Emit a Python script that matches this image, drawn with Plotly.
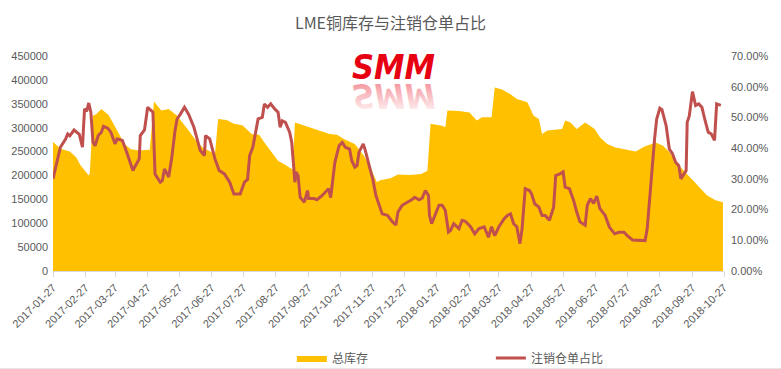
import base64
import plotly.graph_objects as go

# ---------------- data ----------------
title_text = "LME铜库存与注销仓单占比"
inv_name = "总库存"
ratio_name = "注销仓单占比"
logo_text = "SMM"

inv_dates = [
    "2017-01-27", "2017-02-03", "2017-02-12", "2017-02-18", "2017-02-22", "2017-03-02", "2017-03-03",
    "2017-03-06", "2017-03-09", "2017-03-14", "2017-03-21", "2017-03-26", "2017-03-29", "2017-04-05",
    "2017-04-11", "2017-04-19", "2017-04-29", "2017-05-03", "2017-05-10", "2017-05-17", "2017-05-25",
    "2017-06-05", "2017-06-11", "2017-06-18", "2017-06-27", "2017-06-30", "2017-07-03", "2017-07-11",
    "2017-07-18", "2017-07-26", "2017-08-04", "2017-08-11", "2017-08-17", "2017-08-24", "2017-08-29",
    "2017-09-05", "2017-09-12", "2017-09-14", "2017-09-24", "2017-10-07", "2017-10-17", "2017-10-24",
    "2017-10-31", "2017-11-10", "2017-11-19", "2017-11-25", "2017-12-01", "2017-12-04", "2017-12-14",
    "2017-12-21", "2018-01-01", "2018-01-12", "2018-01-18", "2018-01-21", "2018-02-01", "2018-02-04",
    "2018-02-06", "2018-02-17", "2018-02-27", "2018-03-06", "2018-03-11", "2018-03-20", "2018-03-23",
    "2018-03-30", "2018-04-07", "2018-04-13", "2018-04-23", "2018-04-29", "2018-05-04", "2018-05-07",
    "2018-05-12", "2018-05-26", "2018-05-29", "2018-06-03", "2018-06-09", "2018-06-17", "2018-06-26",
    "2018-07-01", "2018-07-08", "2018-07-15", "2018-07-24", "2018-08-04", "2018-08-12", "2018-08-23",
    "2018-08-30", "2018-09-05", "2018-09-11", "2018-09-17", "2018-09-26", "2018-10-03", "2018-10-11",
    "2018-10-19", "2018-10-26",
]
inv_values = [
    270000, 256000, 250000, 238000, 222000, 200000, 205000,
    325000, 328000, 339000, 326000, 304000, 294000, 266000,
    255000, 252000, 254000, 355000, 336000, 339000, 325000,
    294000, 276000, 259000, 248000, 245000, 318000, 316000,
    308000, 305000, 287000, 285000, 266000, 245000, 231000,
    222000, 212000, 311000, 304000, 294000, 287000, 285000,
    276000, 266000, 240000, 215000, 186000, 190000, 194000,
    202000, 201000, 203000, 210000, 308000, 304000, 301000,
    336000, 335000, 332000, 315000, 322000, 322000, 384000,
    380000, 370000, 360000, 353000, 325000, 318000, 287000,
    294000, 297000, 315000, 311000, 297000, 311000, 297000,
    280000, 266000, 259000, 255000, 250000, 260000, 269000,
    262000, 249000, 228000, 214000, 193000, 175000, 158000,
    148000, 144000,
]

ratio_dates = [
    "2017-01-27", "2017-01-31", "2017-02-03", "2017-02-08", "2017-02-10", "2017-02-12", "2017-02-16",
    "2017-02-21", "2017-02-24", "2017-02-26", "2017-02-28", "2017-03-02", "2017-03-04", "2017-03-06",
    "2017-03-08", "2017-03-11", "2017-03-14", "2017-03-16", "2017-03-20", "2017-03-23", "2017-03-27",
    "2017-03-29", "2017-04-03", "2017-04-06", "2017-04-09", "2017-04-13", "2017-04-15", "2017-04-19",
    "2017-04-20", "2017-04-24", "2017-04-27", "2017-05-02", "2017-05-04", "2017-05-09", "2017-05-11",
    "2017-05-13", "2017-05-17", "2017-05-20", "2017-05-23", "2017-05-25", "2017-05-28", "2017-06-01",
    "2017-06-05", "2017-06-10", "2017-06-13", "2017-06-16", "2017-06-20", "2017-06-21", "2017-06-25",
    "2017-06-27", "2017-06-30", "2017-07-04", "2017-07-09", "2017-07-14", "2017-07-18", "2017-07-24",
    "2017-07-28", "2017-07-31", "2017-08-02", "2017-08-05", "2017-08-08", "2017-08-10", "2017-08-14",
    "2017-08-16", "2017-08-19", "2017-08-22", "2017-08-26", "2017-08-29", "2017-08-31", "2017-09-02",
    "2017-09-05", "2017-09-09", "2017-09-11", "2017-09-14", "2017-09-15", "2017-09-17", "2017-09-19",
    "2017-09-23", "2017-09-26", "2017-09-27", "2017-10-02", "2017-10-05", "2017-10-10", "2017-10-13",
    "2017-10-16", "2017-10-18", "2017-10-22", "2017-10-26", "2017-10-29", "2017-11-01", "2017-11-05",
    "2017-11-07", "2017-11-10", "2017-11-12", "2017-11-14", "2017-11-18", "2017-11-20", "2017-11-24",
    "2017-11-27", "2017-11-30", "2017-12-03", "2017-12-06", "2017-12-11", "2017-12-16", "2017-12-19",
    "2017-12-21", "2017-12-25", "2017-12-28", "2018-01-01", "2018-01-03", "2018-01-06", "2018-01-10",
    "2018-01-13", "2018-01-16", "2018-01-19", "2018-01-20", "2018-01-22", "2018-01-25", "2018-01-29",
    "2018-02-01", "2018-02-04", "2018-02-07", "2018-02-09", "2018-02-12", "2018-02-17", "2018-02-20",
    "2018-02-23", "2018-02-28", "2018-03-04", "2018-03-08", "2018-03-13", "2018-03-17", "2018-03-20",
    "2018-03-23", "2018-03-27", "2018-04-01", "2018-04-04", "2018-04-07", "2018-04-10", "2018-04-13",
    "2018-04-16", "2018-04-18", "2018-04-21", "2018-04-25", "2018-04-27", "2018-04-30", "2018-05-04",
    "2018-05-07", "2018-05-10", "2018-05-14", "2018-05-18", "2018-05-20", "2018-05-24", "2018-05-27",
    "2018-05-29", "2018-06-02", "2018-06-06", "2018-06-09", "2018-06-12", "2018-06-17", "2018-06-19",
    "2018-06-22", "2018-06-25", "2018-06-28", "2018-07-01", "2018-07-06", "2018-07-10", "2018-07-15",
    "2018-07-19", "2018-07-24", "2018-07-27", "2018-08-01", "2018-08-05", "2018-08-09", "2018-08-13",
    "2018-08-15", "2018-08-19", "2018-08-22", "2018-08-24", "2018-08-27", "2018-08-29", "2018-09-02",
    "2018-09-05", "2018-09-08", "2018-09-11", "2018-09-14", "2018-09-16", "2018-09-19", "2018-09-21",
    "2018-09-22", "2018-09-24", "2018-09-27", "2018-09-30", "2018-10-03", "2018-10-06", "2018-10-09",
    "2018-10-12", "2018-10-15", "2018-10-18", "2018-10-20", "2018-10-24",
]
ratio_values = [
    30.0, 35.4, 40.3, 43.0, 44.6, 44.0, 45.9,
    44.5, 40.3, 52.8, 52.0, 54.7, 51.7, 41.9,
    40.8, 44.1, 45.2, 47.1, 46.5, 45.2, 41.4,
    43.0, 42.5, 39.7, 36.5, 32.7, 34.0, 36.5,
    44.1, 45.9, 53.3, 51.7, 31.6, 28.9, 29.5,
    33.2, 30.6, 37.0, 45.7, 49.5, 51.0, 53.3,
    51.0, 46.8, 43.0, 39.2, 37.6, 44.1, 43.0,
    40.3, 36.5, 32.7, 31.6, 28.9, 25.1, 25.1,
    28.9, 29.8, 37.6, 40.3, 45.2, 49.5, 50.0,
    54.4, 53.3, 54.4, 52.7, 51.7, 46.8, 48.9,
    48.4, 45.2, 41.9, 28.9, 32.2, 31.1, 24.0,
    22.4, 26.2, 23.6, 23.6, 23.2, 24.6, 25.6,
    26.8, 23.9, 35.4, 40.8, 41.9, 40.3, 39.7,
    36.0, 33.8, 34.3, 38.7, 41.4, 39.2, 33.8,
    30.0, 24.6, 21.9, 18.6, 18.1, 15.9, 15.0,
    19.2, 21.4, 22.0, 22.6, 23.2, 24.0, 23.2,
    23.7, 26.2, 24.6, 18.1, 15.4, 18.1, 21.4,
    21.4, 19.8, 12.7, 13.2, 15.4, 13.8, 16.5,
    16.2, 14.4, 12.1, 13.8, 14.4, 11.0, 14.4,
    11.5, 14.4, 17.0, 18.1, 18.6, 15.4, 14.4,
    8.9, 13.8, 26.8, 26.2, 25.1, 21.9, 20.8,
    18.1, 18.1, 16.5, 20.8, 31.1, 31.6, 32.3,
    27.3, 26.8, 23.0, 19.2, 16.0, 14.9, 21.4,
    23.6, 22.0, 24.4, 20.3, 18.1, 14.3, 12.1,
    12.6, 12.6, 11.5, 10.1, 10.1, 9.9, 9.9,
    13.8, 32.2, 43.0, 49.5, 53.0, 52.5, 47.3,
    39.7, 38.2, 35.4, 34.3, 30.0, 31.6, 32.7,
    48.4, 50.5, 58.4, 53.9, 54.4, 53.3, 49.0,
    45.2, 44.6, 42.5, 54.4, 53.9,
]

x_ticks = [
    "2017-01-27", "2017-02-27", "2017-03-27", "2017-04-27", "2017-05-27", "2017-06-27",
    "2017-07-27", "2017-08-27", "2017-09-27", "2017-10-27", "2017-11-27", "2017-12-27",
    "2018-01-27", "2018-02-27", "2018-03-27", "2018-04-27", "2018-05-27", "2018-06-27",
    "2018-07-27", "2018-08-27", "2018-09-27", "2018-10-27",
]
left_range = [0, 450000]
left_step = 50000
right_range = [0, 70]
right_step = 10

# ---------------- styles ----------------
YELLOW = "#FFC000"
RED = "#C0504D"
TXT = "#595959"
FONT = "Liberation Sans, Noto Sans CJK SC, sans-serif"
CJK = "Noto Sans CJK SC, sans-serif"

fig = go.Figure()
fig.add_trace(go.Scatter(
    x=inv_dates, y=inv_values, name=inv_name, mode="lines",
    line=dict(width=0, color=YELLOW), fill="tozeroy", fillcolor=YELLOW,
    yaxis="y", hoverinfo="skip",
))
fig.add_trace(go.Scatter(
    x=ratio_dates, y=ratio_values, name=ratio_name, mode="lines",
    line=dict(width=3, color=RED), yaxis="y2", hoverinfo="skip",
))

fig.update_layout(
    width=781, height=384,
    margin=dict(l=53, r=57, t=56, b=104),
    paper_bgcolor="white", plot_bgcolor="white",
    font=dict(family=FONT, size=11, color=TXT),
    title=dict(text=title_text, x=0.5, xanchor="center", y=0.94, yanchor="middle",
               font=dict(family=CJK, size=16, color=TXT)),
    xaxis=dict(
        type="date", range=[x_ticks[0], x_ticks[-1]], automargin=False,
        tickvals=x_ticks, ticktext=x_ticks, tickangle=-45,
        showgrid=False, zeroline=False,
        showline=True, linecolor="#D9D9D9", linewidth=1,
        ticks="outside", ticklen=5, tickcolor="#D9D9D9",
        tickfont=dict(size=11, color=TXT),
    ),
    yaxis=dict(
        range=left_range, dtick=left_step, tick0=0, tickformat="d", automargin=False,
        showgrid=False, zeroline=False, showline=False,
        tickfont=dict(size=11, color=TXT), ticklabelstandoff=4,
    ),
    yaxis2=dict(
        range=right_range, dtick=right_step, tick0=0, tickformat=".2f", ticksuffix="%",
        overlaying="y", side="right", automargin=False,
        showgrid=False, zeroline=False, showline=False,
        tickfont=dict(size=11, color=TXT), ticklabelstandoff=6,
    ),
    legend=dict(
        orientation="h", x=0.356, xanchor="left", y=-0.405, yanchor="middle",
        entrywidth=154, entrywidthmode="pixels", itemwidth=30,
        font=dict(family=CJK, size=12, color=TXT),
        bgcolor="rgba(0,0,0,0)",
    ),
    showlegend=True,
)

# SMM logo (text)
fig.add_annotation(
    text="<b><i>" + logo_text + "</i></b>", xref="paper", yref="paper", x=0.508, y=0.95,
    showarrow=False, xanchor="center", yanchor="middle",
    font=dict(family="DejaVu Sans Condensed, DejaVu Sans, sans-serif", size=34, color="#E60012"),
)

# faded mirror reflection of the logo (decorative graphic)
svg = (
    '<svg xmlns="http://www.w3.org/2000/svg" width="110" height="30" viewBox="0 0 110 30">'
    '<defs><linearGradient id="g" x1="0" y1="0" x2="0" y2="1">'
    '<stop offset="0" stop-color="#E60012" stop-opacity="0"/>'
    '<stop offset="1" stop-color="#E60012" stop-opacity="0.5"/>'
    '</linearGradient></defs>'
    '<g transform="scale(1,-1)">'
    '<text x="55" y="-1" text-anchor="middle" font-family="DejaVu Sans Condensed, DejaVu Sans" '
    'font-weight="bold" font-style="italic" font-size="34" fill="url(#g)">' + logo_text + '</text>'
    '</g></svg>'
)
fig.add_layout_image(
    source="data:image/svg+xml;base64," + base64.b64encode(svg.encode("utf-8")).decode("ascii"),
    xref="paper", yref="paper", x=0.508, y=0.875, sizex=110 / 671, sizey=30 / 215,
    xanchor="center", yanchor="top", sizing="stretch", layer="above",
)

# thin frame line at the bottom of the picture
fig.add_shape(type="line", xref="paper", yref="paper", x0=-0.079, x1=1.085,
              y0=-0.455, y1=-0.455, line=dict(color="#D9D9D9", width=1))

page_fix = (
    "var h=document.documentElement, b=document.body;"
    "h.style.margin='0'; h.style.padding='0';"
    "b.style.margin='0'; b.style.padding='0';"
)

fig.write_html(
    "out.html",
    config={"displayModeBar": False, "staticPlot": True},
    post_script=page_fix,
)
